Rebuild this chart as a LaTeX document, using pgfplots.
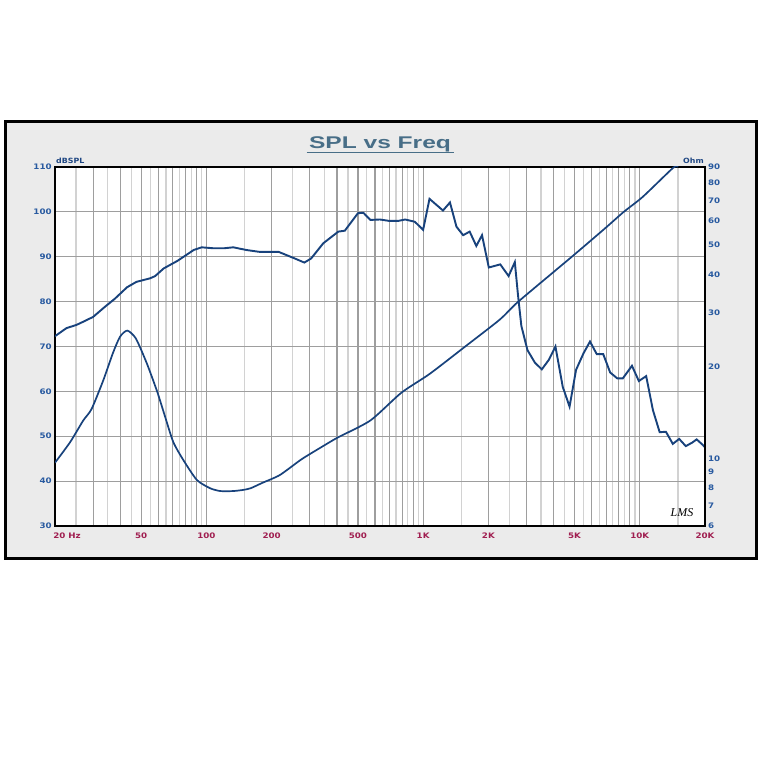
\documentclass[border=0pt]{standalone}
\usepackage{pgfplots}
\pgfplotsset{compat=1.18}
\usepackage{fontspec}
\setmainfont{DejaVu Sans}
\newfontfamily\titlefont{Liberation Sans}
\newfontfamily\sigfont{Liberation Serif}
\definecolor{curve}{RGB}{24,66,124}
\definecolor{xlab}{RGB}{160,30,80}
\definecolor{ylab}{RGB}{40,90,160}
\definecolor{unitc}{RGB}{30,70,130}
\definecolor{titlec}{RGB}{72,110,135}
\definecolor{bgc}{RGB}{235,235,235}
\definecolor{gmaj}{RGB}{158,158,158}
\definecolor{gmin}{RGB}{210,210,210}
\pgfplotsset{
  ticklab/.style={font=\bfseries\fontsize{7.6}{7.6}\selectfont, xscale=1.15, inner sep=0pt},
}
\begin{document}
\begin{tikzpicture}
\begin{scope}[x=1bp,y=1bp]
\fill[white] (0,0) rectangle (767,758);
\draw[line width=3.5bp, fill=bgc] (5.3,199.7) rectangle (756.7,636.7);
\node[text=titlec, font=\titlefont\bfseries\fontsize{17}{17}\selectfont, xscale=1.45, anchor=base, inner sep=0pt] at (380,609.7) {SPL vs Freq};
\draw[titlec, line width=1.6bp] (306.5,605.5) -- (453.5,605.5);
\end{scope}

\begin{axis}[at={(55bp,232bp)}, anchor=south west, scale only axis,
  width=650bp, height=359bp,
  xmode=log, xmin=20, xmax=20000, ymin=30, ymax=110,
  axis background/.style={fill=white},
  axis line style={black, line width=1.6bp},
  xtick={20,30,40,50,60,70,80,90,100,200,300,400,500,600,700,800,900,1000,2000,3000,4000,5000,6000,7000,8000,9000,10000,20000},
  xticklabels={{\makebox[0pt][l]{\kern-1.5bp 20 Hz}},{},{},50,{},{},{},{},100,200,{},{},500,{},{},{},{},1K,2K,{},{},5K,{},{},{},{},10K,20K},
  minor xtick={25,35,45,55,65,75,85,95,150,250,350,450,550,650,750,850,950,1500,2500,3500,4500,5500,6500,7500,8500,9500,15000},
  ytick={30,40,50,60,70,80,90,100,110},
  yticklabels={30,40,50,60,70,80,90,100,110},
  major tick length=0pt, minor tick length=0pt,
  xmajorgrids, xminorgrids, ymajorgrids,
  major grid style={gmaj, line width=1.2bp},
  minor grid style={gmin, line width=1.2bp},
  xticklabel style={ticklab, text=xlab, anchor=base, yshift=-12.3bp},
  yticklabel style={ticklab, text=ylab, anchor=east, xshift=-2.7bp},
  clip=true,
]
\addplot[curve, line width=1.9bp, mark=none] coordinates {
(20,72.3) (22.6,74.1) (25.1,74.8) (27.5,75.7) (30,76.6) (34.1,78.9) (37.7,80.6)
(43,83.2) (47.5,84.4) (55,85.2) (58,85.7) (63.5,87.4) (73.6,89.1) (87.3,91.5)
(95,92.1) (107,91.9) (121,91.9) (133,92.1) (153,91.5) (175,91.1) (215,91.1)
(256,89.6) (283,88.7) (304,89.6) (346,93.0) (406,95.6) (435,95.8) (500,99.7)
(530,99.8) (571,98.2) (632,98.3) (694,98.0) (770,98.0) (826,98.3) (915,97.8)
(1000,96.0) (1070,102.9) (1235,100.3) (1330,102.1) (1425,96.7) (1530,94.8)
(1640,95.6) (1760,92.4) (1870,94.8) (2010,87.6) (2270,88.3) (2480,85.7)
(2650,88.8) (2740,81.5) (2840,74.6) (3030,69.2) (3280,66.4) (3530,64.9)
(3800,67.0) (4080,70.0) (4410,61.0) (4740,56.6) (5080,64.8) (5500,68.5)
(5890,71.1) (6330,68.3) (6780,68.3) (7300,64.2) (7870,62.9) (8350,62.9)
(9200,65.7) (9900,62.3) (10700,63.4) (11500,55.8) (12350,50.9) (13200,51.0)
(14200,48.3) (15200,49.4) (16300,47.8) (17480,48.6) (18300,49.3) (19600,48.0)
(20000,47.5)
};
\end{axis}

\begin{axis}[at={(55bp,232bp)}, anchor=south west, scale only axis,
  width=650bp, height=359bp,
  xmode=log, ymode=log, xmin=20, xmax=20000, ymin=6, ymax=90,
  axis x line=none, axis y line*=right,
  axis line style={black, line width=1.6bp},
  ytick={6,7,8,9,10,20,30,40,50,60,70,80,90},
  yticklabels={6,7,8,9,10,20,30,40,50,60,70,80,90},
  minor ytick={},
  major tick length=0pt, minor tick length=0pt,
  yticklabel style={ticklab, text=ylab, anchor=west, xshift=2.5bp},
  clip=true,
]
\addplot[curve, line width=1.7bp, mark=none, smooth, tension=0.4] coordinates {
(20,9.67) (23.5,11.3) (27,13.3) (29.5,14.5) (33.4,18.0) (37,22.1) (39.9,25.0)
(43.1,26.2) (47.2,24.7) (53,20.5) (59.3,16.5) (64.4,13.7) (70.3,11.3)
(78.2,9.87) (90.3,8.49) (103.9,7.98) (115.8,7.81) (133,7.81) (148,7.88)
(160,7.98) (182,8.32) (218,8.81) (275,9.93) (346,10.97) (404,11.7) (571,13.3)
(794,16.4) (1072,18.9) (1560,23.2) (2263,28.5) (2750,32.6) (4850,45.7)
(6900,56.6) (8420,64.1) (10330,71.9) (14270,89.5) (15000,90)
};
\end{axis}

\begin{scope}[x=1bp,y=1bp]
\node[anchor=base west, text=unitc, font=\bfseries\fontsize{7.2}{7.2}\selectfont, xscale=1.1, inner sep=0pt] at (56,594.5) {dBSPL};
\node[anchor=base east, text=unitc, font=\bfseries\fontsize{7.2}{7.2}\selectfont, xscale=1.1, inner sep=0pt] at (704,594.7) {Ohm};
\node[font=\sigfont\itshape\fontsize{12}{12}\selectfont] at (682,245.5) {LMS};
\end{scope}
\end{tikzpicture}
\end{document}
